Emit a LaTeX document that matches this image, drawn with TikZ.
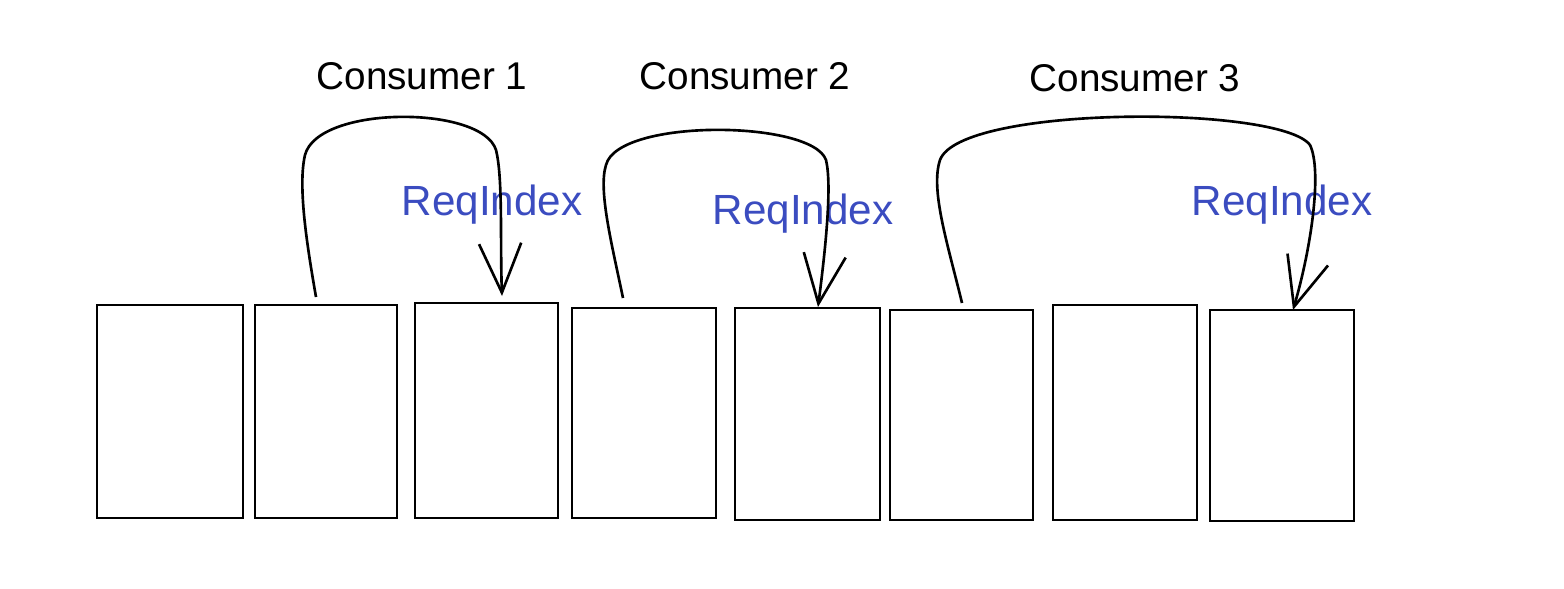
\documentclass[tikz,border=0pt]{standalone}
\usepackage{fontspec}
\setmainfont{Liberation Sans}
\usetikzlibrary{arrows.meta}
\definecolor{reqblue}{RGB}{59,76,192}
\begin{document}
\begin{tikzpicture}[x=0.01cm,y=-0.01cm,
  box/.style={draw=black,line width=0.7pt,rectangle,inner sep=0pt},
  arr/.style={draw=black,line width=0.75pt,-{Straight Barb[length=14pt,width=12pt,line width=0.75pt]}},
  cons/.style={font=\fontsize{11}{13}\selectfont,text=black},
  req/.style={font=\fontsize{12}{14}\selectfont,text=reqblue}]
\useasboundingbox (0,0) rectangle (1564,588);
% boxes
\node[box,minimum width=1.46cm,minimum height=2.13cm] (b1) at (170,411.5) {};
\node[box,minimum width=1.42cm,minimum height=2.13cm] (b2) at (326,411.5) {};
\node[box,minimum width=1.43cm,minimum height=2.15cm] (b3) at (486.5,410.5) {};
\node[box,minimum width=1.44cm,minimum height=2.10cm] (b4) at (644,413) {};
\node[box,minimum width=1.45cm,minimum height=2.12cm] (b5) at (807.5,414) {};
\node[box,minimum width=1.43cm,minimum height=2.10cm] (b6) at (961.5,415) {};
\node[box,minimum width=1.44cm,minimum height=2.15cm] (b7) at (1125,412.5) {};
\node[box,minimum width=1.44cm,minimum height=2.11cm] (b8) at (1282,415.5) {};
% labels
\node[cons] (c1) at (422,76) {Consumer 1};
\node[cons] (c2) at (745,76) {Consumer 2};
\node[cons] (c3) at (1135,78) {Consumer 3};
\node[req] (r1) at (492,205) {ReqIndex};
\node[req] (r2) at (803,214) {ReqIndex};
\node[req] (r3) at (1282,205) {ReqIndex};
% connector end points
\coordinate (s1) at (316,297);
\coordinate (e1) at (502,296);
\coordinate (s2) at (623,298);
\coordinate (e2) at (818,307);
\coordinate (s3) at (962,303);
\coordinate (e3) at (1293,310);
% arcs
\draw[arr] (s1) .. controls (306,240) and (298,185) .. (305,155)
  .. controls (318,105) and (482,105) .. (496,150)
  .. controls (503,178) and (500,240) .. (e1);
\draw[arr] (s2) .. controls (612,245) and (598,190) .. (606,165)
  .. controls (618,118) and (812,120) .. (826,160)
  .. controls (832,185) and (826,245) .. (e2);
\draw[arr] (s3) .. controls (948,245) and (930,190) .. (940,160)
  .. controls (960,105) and (1280,105) .. (1310,145)
  .. controls (1322,170) and (1312,245) .. (e3);
\end{tikzpicture}
\end{document}
